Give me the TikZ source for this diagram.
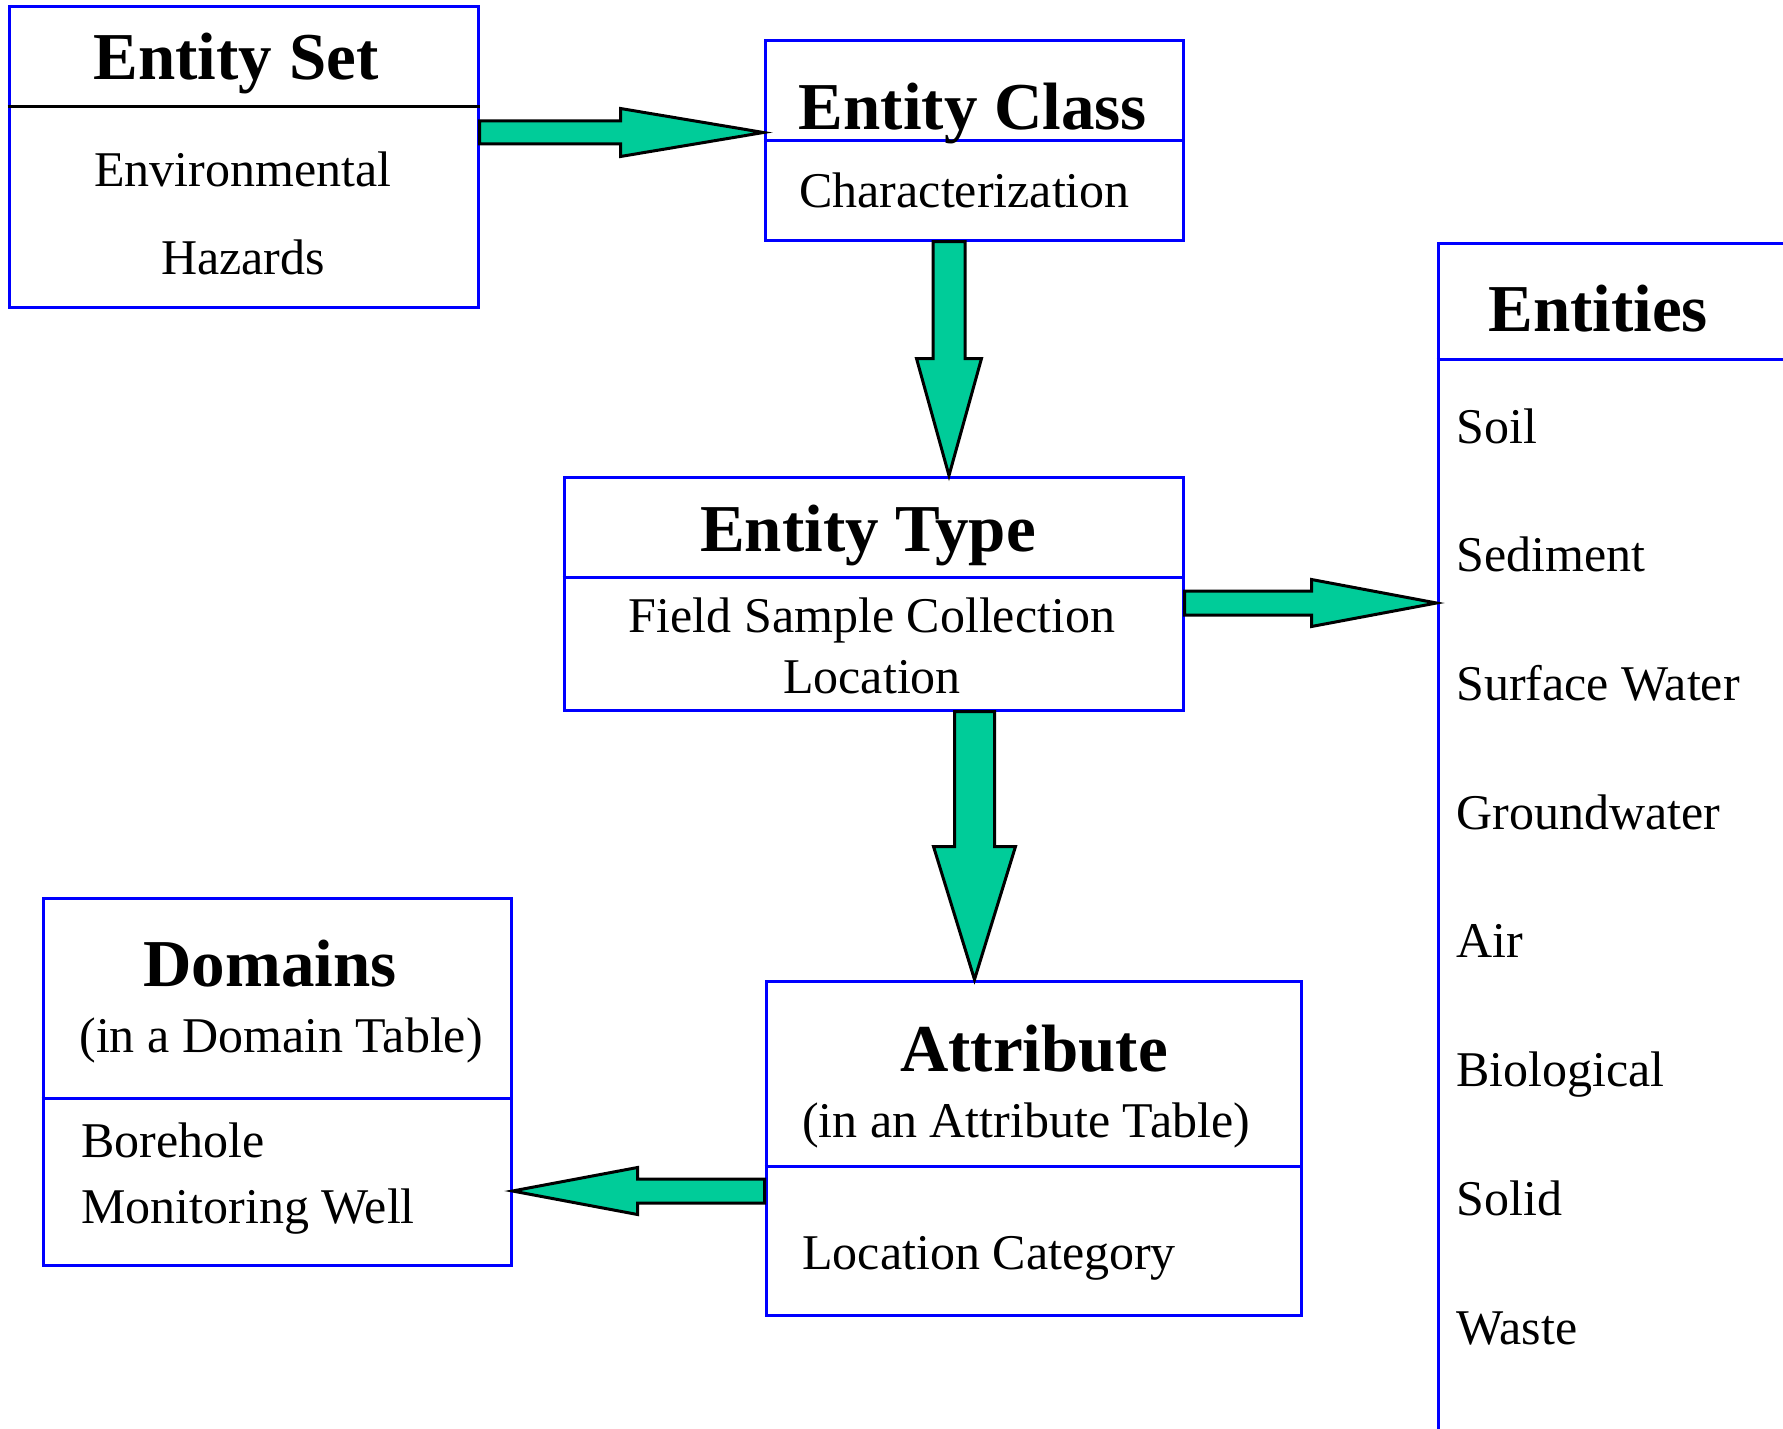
\documentclass[tikz,border=0pt]{standalone}
\usepackage{fontspec}
\setmainfont{Liberation Serif}
\usetikzlibrary{calc,fit}
\definecolor{arrgreen}{RGB}{0,204,153}
\tikzset{
  box/.style={draw=blue, line width=1.5pt, inner sep=0pt, fill=none},
  sepline/.style={draw=blue, line width=1.5pt},
  blockarr/.style={fill=arrgreen, draw=black, line width=1.5pt, line join=miter},
  ttl/.style={inner sep=0pt, font=\fontsize{33.5pt}{36pt}\selectfont\bfseries},
  txt/.style={inner sep=0pt, font=\fontsize{25pt}{28pt}\selectfont},
}
% #1 start, #2 tip, #3 shaft half width, #4 head half width, #5 head length
\newcommand\blockarrow[5]{%
  \path ($(#2)!#5!(#1)$) coordinate (ba-neck);
  \filldraw[blockarr]
    ($(#1)!#3!90:(#2)$) -- ($(ba-neck)!#3!90:(#2)$) -- ($(ba-neck)!#4!90:(#2)$)
    -- (#2) -- ($(ba-neck)!#4!-90:(#2)$) -- ($(ba-neck)!#3!-90:(#2)$)
    -- ($(#1)!#3!-90:(#2)$) -- cycle;
}
\begin{document}
\begin{tikzpicture}[x=0.5pt,y=-0.5pt]
\useasboundingbox (0,0) rectangle (1783,1429);
\clip (0,0) rectangle (1783,1429);

% boxes
\node[box, fit={(9,7) (478,307)}] (es) {};
\node[box, fit={(765,41) (1183,240)}] (ec) {};
\node[box, fit={(564,477) (1183,710)}] (et) {};
\node[box, fit={(1438,243) (1820,1460)}] (en) {};
\node[box, fit={(43,898) (511,1265)}] (dm) {};
\node[box, fit={(766,981) (1301,1315)}] (at) {};

% separators
\draw[line width=1.5pt, black] (es.west |- 0,107) -- (es.east |- 0,107);
\draw[sepline] (ec.west |- 0,141) -- (ec.east |- 0,141);
\draw[sepline] (et.west |- 0,577) -- (et.east |- 0,577);
\draw[sepline] (en.west |- 0,359) -- (en.east |- 0,359);
\draw[sepline] (dm.west |- 0,1098) -- (dm.east |- 0,1098);
\draw[sepline] (at.west |- 0,1166) -- (at.east |- 0,1166);

% texts: Entity Set
\node[ttl, anchor=base] (es-t) at (236,80) {Entity Set};
\node[txt, anchor=base] (es-1) at (243,186) {Environmental};
\node[txt, anchor=base] (es-2) at (243,274) {Hazards};
% Entity Class
\node[ttl, anchor=base] (ec-t) at (973,130) {Entity Class};
\node[txt, anchor=base west] (ec-1) at (799,207) {Characterization};
% Entity Type
\node[ttl, anchor=base] (et-t) at (868,551) {Entity Type};
\node[txt, anchor=base] (et-1) at (872,632) {Field Sample Collection};
\node[txt, anchor=base] (et-2) at (872,693) {Location};
% Entities
\node[ttl, anchor=base west] (en-t) at (1488,331) {Entities};
\node[txt, anchor=base west] (en-1) at (1456,443) {Soil};
\node[txt, anchor=base west] (en-2) at (1456,571.7) {Sediment};
\node[txt, anchor=base west] (en-3) at (1456,700.4) {Surface Water};
\node[txt, anchor=base west] (en-4) at (1456,829.1) {Groundwater};
\node[txt, anchor=base west] (en-5) at (1456,957.8) {Air};
\node[txt, anchor=base west] (en-6) at (1456,1086.5) {Biological};
\node[txt, anchor=base west] (en-7) at (1456,1215.2) {Solid};
\node[txt, anchor=base west] (en-8) at (1456,1344) {Waste};
% Domains
\node[ttl, anchor=base] (dm-t) at (270,986) {Domains};
\node[txt, anchor=base] (dm-s) at (281,1052) {(in a Domain Table)};
\node[txt, anchor=base west] (dm-1) at (81,1157) {Borehole};
\node[txt, anchor=base west] (dm-2) at (81,1223) {Monitoring Well};
% Attribute
\node[ttl, anchor=base] (at-t) at (1034,1071) {Attribute};
\node[txt, anchor=base] (at-s) at (1026,1137) {(in an Attribute Table)};
\node[txt, anchor=base west] (at-1) at (802,1269) {Location Category};

% arrows
\coordinate (a1s) at (es.east |- 0,132.5);
\coordinate (a1e) at (ec.west |- 0,132.5);
\blockarrow{a1s}{a1e}{5.75pt}{12pt}{71.5pt}
\coordinate (a2s) at (949,0 |- ec.south);
\coordinate (a2e) at (949,0 |- et.north);
\blockarrow{a2s}{a2e}{8pt}{16.25pt}{58.5pt}
\coordinate (a3s) at (et.east |- 0,603);
\coordinate (a3e) at (en.west |- 0,603);
\blockarrow{a3s}{a3e}{6pt}{11.75pt}{62.5pt}
\coordinate (a4s) at (974.5,0 |- et.south);
\coordinate (a4e) at (974.5,0 |- at.north);
\blockarrow{a4s}{a4e}{10pt}{20.5pt}{66.5pt}
\coordinate (a5s) at (at.west |- 0,1191);
\coordinate (a5e) at (dm.east |- 0,1191);
\blockarrow{a5s}{a5e}{6pt}{11.75pt}{62.5pt}
\end{tikzpicture}
\end{document}
